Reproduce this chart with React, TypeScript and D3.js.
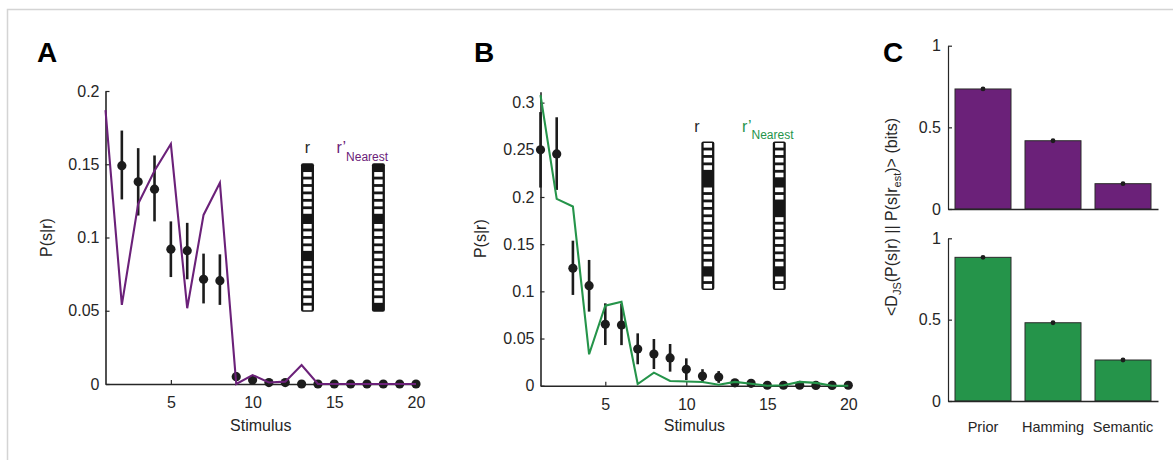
import { useEffect, useRef } from 'react';
import * as d3 from 'd3';

// ---- data ----
const stimuli = [1, 2, 3, 4, 5, 6, 7, 8, 9, 10, 11, 12, 13, 14, 15, 16, 17, 18, 19, 20];

// panel A (purple): measured P(s|r) with error bars, and model curve
const meanA = [null, 0.149, 0.138, 0.133, 0.092, 0.091, 0.0715, 0.0705, 0.005, 0.0027, 0.001, 0.001, 0, 0, 0, 0, 0, 0, 0, 0];
const lowA = [null, 0.126, 0.115, 0.111, 0.073, 0.0715, 0.055, 0.054, 0.003, 0.002, 0.0005, 0.0005, 0, 0, 0, 0, 0, 0, 0, 0];
const highA = [null, 0.173, 0.161, 0.156, 0.111, 0.11, 0.089, 0.0885, 0.008, 0.0035, 0.0015, 0.0015, 0, 0, 0, 0, 0, 0, 0, 0];
const modelA = [0.187, 0.054, 0.123, 0.1456, 0.1638, 0.0517, 0.1154, 0.1374, 0, 0.0061, 0.001, 0.0016, 0.013, 0, 0, 0, 0, 0, 0, 0];

// panel B (green)
const meanB = [0.25, 0.2456, 0.1245, 0.106, 0.0651, 0.0643, 0.0389, 0.0336, 0.0294, 0.0174, 0.0103, 0.0092, 0.003, 0.0025, 0.0005, 0.0005, 0.0005, 0.0003, 0.0003, 0.0005];
const lowB = [0.21, 0.2075, 0.0962, 0.0785, 0.0431, 0.043, 0.0227, 0.0177, 0.0149, 0.006, 0.003, 0.003, 0.001, 0.0005, 0, 0, 0, 0, 0, 0];
const highB = [0.29, 0.2845, 0.1537, 0.1333, 0.0873, 0.087, 0.0555, 0.0495, 0.0442, 0.029, 0.0175, 0.0155, 0.005, 0.0045, 0.001, 0.001, 0.001, 0.001, 0.001, 0.001];
const modelB = [0.308, 0.198, 0.19, 0.0333, 0.0848, 0.089, 0.0018, 0.0138, 0.005, 0.0045, 0.004, 0.001, 0.004, 0.002, 0, 0.0005, 0.004, 0.003, 0, 0];

const ticksA = [0, 0.05, 0.1, 0.15, 0.2];
const ticksB = [0, 0.05, 0.1, 0.15, 0.2, 0.25, 0.3];
const stimTicks = [5, 10, 15, 20];

// binary codewords (1 = active bin)
const codeA_r = [1, 0, 0, 0, 0, 0, 0, 1, 0, 0, 0, 0, 1, 0, 0, 0, 0, 0, 0, 0];
const codeA_near = [1, 0, 0, 0, 0, 0, 0, 1, 0, 0, 0, 0, 0, 0, 0, 0, 0, 0, 0, 1];
const codeB_r = [0, 0, 0, 0, 1, 1, 0, 0, 0, 0, 0, 0, 0, 0, 0, 0, 0, 1, 0, 0];
const codeB_near = [0, 0, 0, 0, 0, 1, 0, 0, 1, 1, 0, 0, 0, 0, 0, 0, 0, 1, 0, 0];

// panel C
const methods = ['Prior', 'Hamming', 'Semantic'];
const djsPurple = [0.735, 0.418, 0.155];
const djsGreen = [0.883, 0.481, 0.252];
const ticksC = [0, 0.5, 1];

const W = 1173;
const H = 460;
const FONT = '"Liberation Sans", Arial, Helvetica, sans-serif';
const INK = '#262626';
const DOT = '#1c1c1c';
const PURPLE = '#6b2179';
const GREEN = '#25944a';

export default function App() {
    const svgRef = useRef<SVGSVGElement>(null);

    useEffect(() => {
        const svg = d3.select(svgRef.current);
        svg.selectAll('*').remove();
        svg.attr('width', W).attr('height', H).style('font-family', FONT);

        // light frame around the figure
        svg.append('rect')
            .attr('x', 7.5).attr('y', 9.5)
            .attr('width', W).attr('height', H)
            .attr('fill', 'none').attr('stroke', '#d4d4d4').attr('stroke-width', 1.5);

        const styleAxis = (g: any, width = 1.6) => {
            g.attr('font-size', 16).attr('font-family', FONT);
            g.select('.domain').attr('stroke', INK).attr('stroke-width', width);
            g.selectAll('.tick line').attr('stroke', INK).attr('stroke-width', 1.2);
            g.selectAll('.tick text').attr('fill', INK);
        };

        const letter = (txt: string, x: number) => {
            svg.append('text')
                .attr('x', x).attr('y', 62)
                .attr('font-size', 28).attr('font-weight', 'bold').attr('fill', '#000')
                .text(txt);
        };

        const codeword = (cx: number, top: number, cellH: number, bits: number[]) => {
            const w = 13;
            const g = svg.append('g');
            g.append('rect')
                .attr('x', cx - w / 2).attr('y', top)
                .attr('width', w).attr('height', cellH * bits.length)
                .attr('rx', 2).attr('fill', '#161616');
            g.selectAll('rect.cell')
                .data(bits.map((b, i) => ({ b, i })).filter((d) => d.b === 0))
                .join('rect')
                .attr('class', 'cell')
                .attr('x', cx - 4.2)
                .attr('y', (d) => top + d.i * cellH + 1.4)
                .attr('width', 8.4)
                .attr('height', cellH - 2.8)
                .attr('fill', '#fff');
        };

        const codeLabels = (rx: number, nx: number, base: number, color: string) => {
            svg.append('text')
                .attr('x', rx).attr('y', base).attr('text-anchor', 'middle')
                .attr('font-size', 16).attr('fill', INK).text('r');
            const t = svg.append('text')
                .attr('x', nx).attr('y', base)
                .attr('font-size', 16).attr('fill', color);
            t.append('tspan').text('r’');
            t.append('tspan').attr('font-size', 12).attr('dy', 7.5).text('Nearest');
        };

        const linePanel = (o: any) => {
            const x = d3.scaleLinear().domain([1, 20]).range(o.xRange);
            const y = d3.scaleLinear().domain([0, o.yMax]).range(o.yRange);

            const gx = svg.append('g')
                .attr('transform', `translate(0,${o.yRange[0]})`)
                .call(d3.axisBottom(x).tickValues(stimTicks).tickSizeInner(-4).tickSizeOuter(0).tickPadding(12.5).tickFormat(d3.format('d')));
            styleAxis(gx);

            const gy = svg.append('g')
                .attr('transform', `translate(${o.xRange[0]},0)`)
                .call(d3.axisLeft(y).tickValues(o.yTicks).tickSizeInner(-4).tickSizeOuter(0).tickPadding(6).tickFormat((d: any) => String(+d.toFixed(2))));
            styleAxis(gy);

            const pts = stimuli
                .map((s, i) => ({ s, m: o.mean[i], lo: o.low[i], hi: o.high[i] }))
                .filter((d) => d.m !== null);

            svg.append('g').selectAll('line')
                .data(pts)
                .join('line')
                .attr('x1', (d) => x(d.s)).attr('x2', (d) => x(d.s))
                .attr('y1', (d) => y(d.lo)).attr('y2', (d) => y(d.hi))
                .attr('stroke', DOT).attr('stroke-width', 2.6);

            svg.append('g').selectAll('circle')
                .data(pts)
                .join('circle')
                .attr('cx', (d) => x(d.s)).attr('cy', (d) => y(d.m))
                .attr('r', 4.6).attr('fill', DOT);

            const line = d3.line<number>()
                .x((_, i) => x(stimuli[i]))
                .y((d) => y(d));
            svg.append('path')
                .datum(o.model)
                .attr('d', line)
                .attr('fill', 'none')
                .attr('stroke', o.color)
                .attr('stroke-width', 2.1)
                .attr('stroke-linejoin', 'miter');

            const cx = (o.xRange[0] + o.xRange[1]) / 2;
            svg.append('text')
                .attr('x', cx).attr('y', 430.5).attr('text-anchor', 'middle')
                .attr('font-size', 16).attr('fill', INK).text('Stimulus');
            const cy = (o.yRange[0] + o.yRange[1]) / 2;
            svg.append('text')
                .attr('transform', `translate(${o.ylabelX},${cy}) rotate(-90)`)
                .attr('text-anchor', 'middle')
                .attr('font-size', 16).attr('fill', INK).text('P(s|r)');

            // codeword insets, placed in data units of the panel
            const top = y(o.codeTop);
            const cellH = (y(o.codeBottom) - top) / 20;
            codeword(x(o.codeX[0]), top, cellH, o.codes[0]);
            codeword(x(o.codeX[1]), top, cellH, o.codes[1]);
            codeLabels(x(o.labelX[0]), x(o.labelX[1]), top - 10, o.color);
        };

        letter('A', 37);
        linePanel({
            xRange: [105.5, 416], yRange: [384, 91], yMax: 0.2, yTicks: ticksA,
            mean: meanA, low: lowA, high: highA, model: modelA, color: PURPLE, ylabelX: 52,
            codeTop: 0.1507, codeBottom: 0.0494, codeX: [13.36, 17.7], labelX: [13.36, 15.14],
            codes: [codeA_r, codeA_near],
        });

        letter('B', 474);
        linePanel({
            xRange: [540.5, 848.3], yRange: [385.7, 91.7], yMax: 0.3116, yTicks: ticksB,
            mean: meanB, low: lowB, high: highB, model: modelB, color: GREEN, ylabelX: 486,
            codeTop: 0.2587, codeBottom: 0.1015, codeX: [11.33, 15.74], labelX: [10.66, 13.44],
            codes: [codeB_r, codeB_near],
        });

        // ---- panel C ----
        letter('C', 883);
        const xC = d3.scaleBand().domain(methods).range([948, 1158]).paddingInner(0.2).paddingOuter(0.1);

        const barPanel = (vals: number[], color: string, yRange: [number, number], showCats: boolean) => {
            const y = d3.scaleLinear().domain([0, 1]).range(yRange);
            svg.append('g').selectAll('rect')
                .data(methods)
                .join('rect')
                .attr('x', (d) => xC(d)!)
                .attr('y', (_, i) => y(vals[i]))
                .attr('width', xC.bandwidth())
                .attr('height', (_, i) => y(0) - y(vals[i]))
                .attr('fill', color)
                .attr('stroke', '#2a2a2a')
                .attr('stroke-width', 1);
            svg.append('g').selectAll('circle')
                .data(methods)
                .join('circle')
                .attr('cx', (d) => xC(d)! + xC.bandwidth() / 2)
                .attr('cy', (_, i) => y(vals[i]))
                .attr('r', 2.4)
                .attr('fill', DOT);

            const gy = svg.append('g')
                .attr('transform', 'translate(948,0)')
                .call(d3.axisLeft(y).tickValues(ticksC).tickSizeInner(-4).tickSizeOuter(0).tickPadding(7).tickFormat((d: any) => String(d)));
            styleAxis(gy, 1.2);

            const gx = svg.append('g')
                .attr('transform', `translate(0,${yRange[0]})`)
                .call(d3.axisBottom(xC).tickSize(0).tickPadding(20.5));
            styleAxis(gx, 1.4);
            gx.selectAll('.tick text').attr('font-size', 14.5);
            if (!showCats) gx.selectAll('.tick text').remove();
        };

        barPanel(djsPurple, PURPLE, [209, 45.7], false);
        barPanel(djsGreen, GREEN, [401, 238.3], true);

        const yl = svg.append('text')
            .attr('transform', 'translate(897,217) rotate(-90)')
            .attr('text-anchor', 'middle')
            .attr('font-size', 16).attr('fill', INK);
        yl.append('tspan').text('<D');
        yl.append('tspan').attr('font-size', 11).attr('dy', 4).text('JS');
        yl.append('tspan').attr('dy', -4).text('(P(s|r) || P(s|r');
        yl.append('tspan').attr('font-size', 11).attr('dy', 4).text('est');
        yl.append('tspan').attr('dy', -4).text(')> (bits)');
    }, []);

    return (
        <svg ref={svgRef} style={{ position: 'absolute', left: 0, top: 0, background: '#fff' }}></svg>
    );
}
